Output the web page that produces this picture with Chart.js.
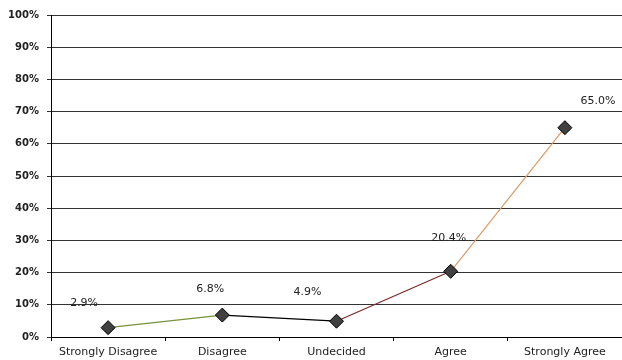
<!DOCTYPE html>
<html>
<head>
<meta charset="utf-8">
<script src="https://cdn.jsdelivr.net/npm/chart.js@4/dist/chart.umd.min.js"></script>
<style>
  html, body { margin: 0; padding: 0; background: #fff; }
  #wrap { width: 622px; height: 360px; }
</style>
</head>
<body>
<div id="wrap"><canvas id="evo"></canvas></div>
<script>
// chart data
var categories = ["Strongly Disagree", "Disagree", "Undecided", "Agree", "Strongly Agree"];
var percents = [2.9, 6.8, 4.9, 20.4, 65.0];
var yTicks = [0, 10, 20, 30, 40, 50, 60, 70, 80, 90, 100];

// one colour per segment between points
var segColors = ["#76923C", "#000000", "#7B2A2A", "#E09A62"];
// where each value label sits relative to its point
var labelDx = [-24, -12, -29, -2, 33];
var labelDy = [-25, -26, -29, -33, -27];

var valueLabels = {
    id: "valueLabels",
    afterDatasetsDraw: function(chart){
        var ctx = chart.ctx;
        var meta = chart.getDatasetMeta(0);
        ctx.save();
        ctx.font = "11px 'DejaVu Sans'";
        ctx.fillStyle = "#222";
        ctx.textAlign = "center";
        ctx.textBaseline = "middle";
        meta.data.forEach(function(pt, i){
            ctx.fillText(percents[i].toFixed(1) + "%", pt.x + labelDx[i], pt.y + labelDy[i]);
        });
        ctx.restore();
    }
};

var data = {
    "labels": categories,
    "datasets": [
        {
            "label": "Responses",
            "data": percents,
            "fill": false,
            "tension": 0,
            "borderWidth": 1.2,
            "borderColor": "#000",
            "segment": {
                "borderColor": function(c){ return segColors[c.p0DataIndex]; }
            },
            "pointStyle": "rectRot",
            "pointRadius": 7,
            "pointBackgroundColor": "#404040",
            "pointBorderColor": "#000",
            "pointBorderWidth": 1
        }
    ]
};

var zone = document.getElementById("evo");
var mychart = new Chart(zone, {
    type: "line",
    data: data,
    plugins: [valueLabels],
    options: {
        responsive: true,
        maintainAspectRatio: false,
        animation: false,
        layout: { autoPadding: false, padding: { top: 15, right: 0, left: 0, bottom: 0 } },
        plugins: {
            legend: { display: false },
            tooltip: { enabled: false }
        },
        scales: {
            x: {
                offset: true,
                border: { color: "#000", width: 1 },
                grid: {
                    offset: true,
                    drawOnChartArea: false,
                    drawTicks: true,
                    tickLength: 4,
                    color: "#000"
                },
                ticks: {
                    color: "#222",
                    font: { family: "'DejaVu Sans'", size: 11 },
                    padding: 5,
                    maxRotation: 0,
                    autoSkip: false
                },
                afterFit: function(scale){
                    scale.height = 23;
                    scale.paddingRight = 0;
                    scale.paddingLeft = 0;
                }
            },
            y: {
                min: 0,
                max: 100,
                border: { color: "#000", width: 1 },
                grid: {
                    color: "#333",
                    lineWidth: 1,
                    tickLength: 4
                },
                afterBuildTicks: function(scale){
                    scale.ticks = yTicks.map(function(v){ return { value: v }; });
                },
                ticks: {
                    color: "#222",
                    font: { family: "'DejaVu Sans'", size: 10, weight: "bold" },
                    padding: 8,
                    callback: function(v){ return v + "%"; }
                },
                afterFit: function(scale){ scale.width = 51; }
            }
        }
    }
});
</script>
</body>
</html>
